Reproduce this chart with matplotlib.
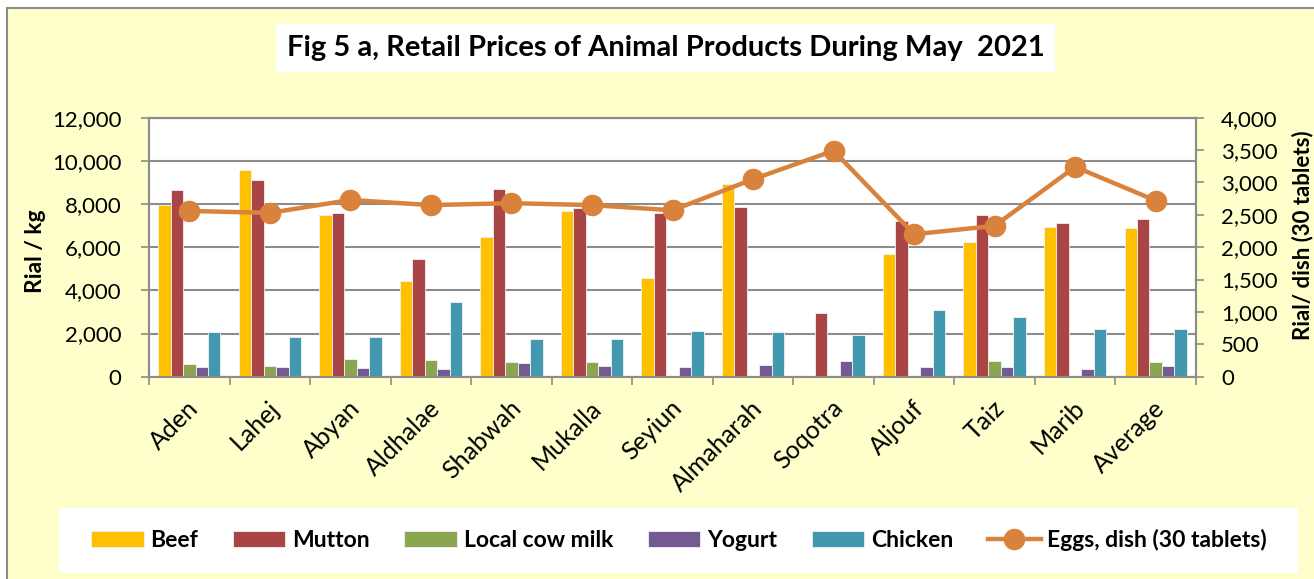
import numpy as np
import matplotlib
matplotlib.use("Agg")
import matplotlib.pyplot as plt
from matplotlib.patches import Rectangle
from matplotlib.ticker import FuncFormatter, MultipleLocator

# =========================
# Data
# =========================
regions = ["Aden", "Lahej", "Abyan", "Aldhalae", "Shabwah", "Mukalla", "Seyiun",
           "Almaharah", "Soqotra", "Aljouf", "Taiz", "Marib", "Average"]

beef = [7950, 9600, 7500, 4450, 6450, 7680, 4560, 8950, np.nan, 5700, 6230, 6950, 6900]
mutton = [8660, 9110, 7600, 5450, 8700, 7830, 7600, 7860, 2970, 7200, 7480, 7140, 7320]
cow_milk = [590, 510, 820, 770, 690, 660, np.nan, np.nan, np.nan, np.nan, 710, np.nan, 660]
yogurt = [460, 460, 420, 370, 630, 510, 460, 550, 710, 450, 430, 350, 480]
chicken = [2060, 1830, 1830, 3450, 1740, 1750, 2110, 2060, 1950, 3090, 2750, 2190, 2230]
eggs = [2560, 2530, 2730, 2650, 2680, 2650, 2570, 3050, 3490, 2200, 2330, 3240, 2720]

bar_series = [
    ("Beef", beef, "#FFC000"),
    ("Mutton", mutton, "#A94645"),
    ("Local cow milk", cow_milk, "#8AA64E"),
    ("Yogurt", yogurt, "#735A92"),
    ("Chicken", chicken, "#4198AF"),
]
EGG_COLOR = "#D9823B"
GRID = "#8C8C8C"

plt.rcParams["font.family"] = ["Lato", "DejaVu Sans"]

W, H = 1314, 579
fig = plt.figure(figsize=(W / 100, H / 100), dpi=100)
fig.patch.set_facecolor("white")

def px(x0, y0, x1, y1):
    # pixel box (top-left origin) -> figure fraction rect
    return (x0 / W, 1 - y1 / H, (x1 - x0) / W, (y1 - y0) / H)

# chart background with border
x, y, w, h = px(7, 8, 1330, 600)
fig.patches.append(Rectangle((x, y), w, h, transform=fig.transFigure,
                             facecolor="#FFFFCC", edgecolor=GRID, lw=1.5, zorder=-10))

# title box
x, y, w, h = px(276, 24, 1055, 72)
fig.patches.append(Rectangle((x, y), w, h, transform=fig.transFigure,
                             facecolor="white", edgecolor="none", zorder=-5))
fig.text(665.5 / W, 1 - 48 / H, "Fig 5 a, Retail Prices of Animal Products During May  2021",
         ha="center", va="center", fontsize=21, fontweight="bold")

# legend box
x, y, w, h = px(59, 508, 1298, 573)
fig.patches.append(Rectangle((x, y), w, h, transform=fig.transFigure,
                             facecolor="white", edgecolor="none", zorder=-5))

ax = fig.add_axes(px(149, 117.7, 1196, 376.7))
ax.set_facecolor("white")

xpos = np.arange(len(regions))
bw = 0.155
handles = []
for i, (name, vals, color) in enumerate(bar_series):
    b = ax.bar(xpos + (i - 2) * bw, vals, width=bw, color=color,
               edgecolor="#F2F2F2", linewidth=0.6, label=name, zorder=3)
    handles.append(b)

ax.set_xlim(-0.5, len(regions) - 0.5)
ax.set_ylim(0, 12000)
ax.yaxis.set_major_locator(MultipleLocator(2000))
ax.yaxis.set_major_formatter(FuncFormatter(lambda v, p: f"{int(v):,}"))
ax.grid(axis="y", color=GRID, lw=1.5, zorder=1)
ax.set_axisbelow(True)

ax.set_xticks(np.arange(len(regions) + 1) - 0.5)
ax.set_xticklabels([])
ax.set_xticks(xpos - 0.03, minor=True)
ax.set_xticklabels(regions, minor=True, rotation=45, ha="right", va="top",
                   rotation_mode="anchor", fontsize=18)
ax.tick_params(axis="x", which="major", direction="out", length=6, width=1.2, color=GRID)
ax.tick_params(axis="x", which="minor", length=0, pad=14)
ax.tick_params(axis="y", direction="out", length=6, width=1.2, color=GRID, labelsize=16, pad=14)

for side in ["left", "bottom", "right", "top"]:
    ax.spines[side].set_color(GRID)
    ax.spines[side].set_linewidth(1.5)

ax2 = ax.twinx()
line, = ax2.plot(xpos, eggs, color=EGG_COLOR, lw=3.2, marker="o", markersize=14.5,
                 label="Eggs, dish (30 tablets)", zorder=5)
ax2.set_ylim(0, 4000)
ax2.yaxis.set_major_locator(MultipleLocator(500))
ax2.yaxis.set_major_formatter(FuncFormatter(lambda v, p: f"{int(v):,}"))
ax2.tick_params(axis="y", direction="out", length=6, width=1.2, color=GRID, labelsize=16, pad=12)
for side in ["left", "bottom", "right", "top"]:
    ax2.spines[side].set_color(GRID)
    ax2.spines[side].set_linewidth(1.5)

fig.text(35 / W, 1 - 251 / H, "Rial / kg", rotation=90, ha="center", va="center",
         fontsize=16.5, fontweight="bold")
fig.text(1303 / W, 1 - 235 / H, "Rial/ dish (30 tablets)", rotation=90, ha="center",
         va="center", fontsize=16, fontweight="bold")

leg = fig.legend(handles + [line], [s[0] for s in bar_series] + ["Eggs, dish (30 tablets)"],
                 loc="center", bbox_to_anchor=(679 / W, 1 - 540 / H), ncol=6,
                 frameon=False, prop={"weight": "bold", "size": 16.5},
                 handlelength=2.3, handleheight=0.7, handletextpad=0.3,
                 columnspacing=1.5)

fig.savefig("out.png", dpi=100)
